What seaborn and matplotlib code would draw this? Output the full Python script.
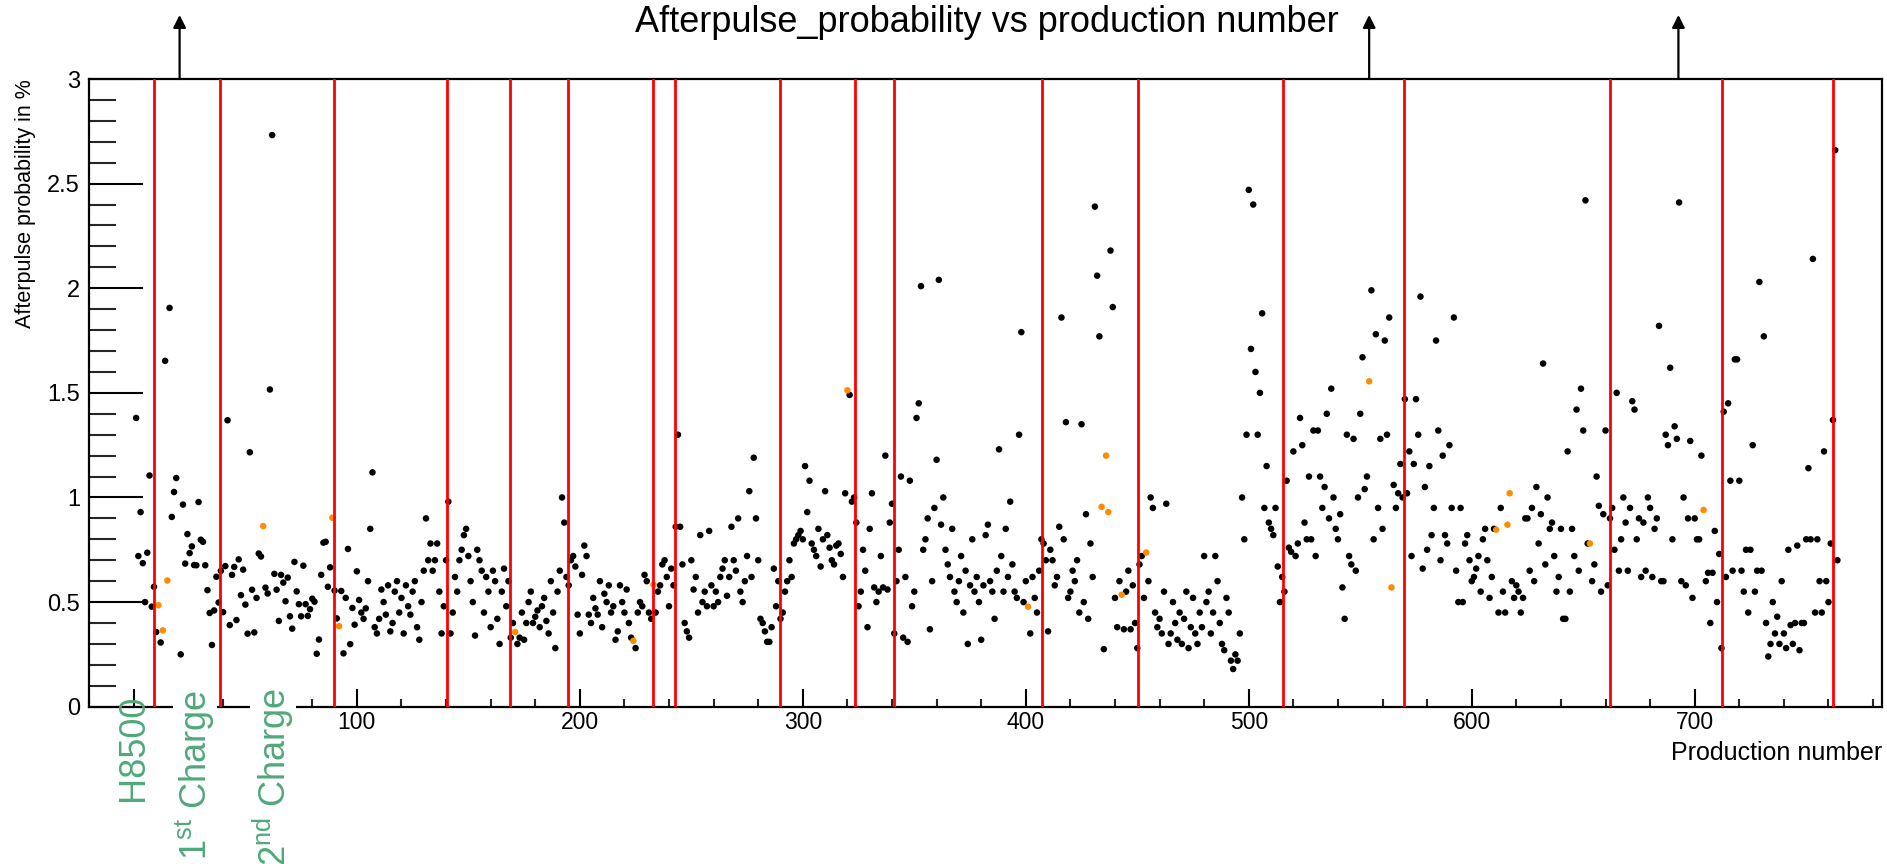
import matplotlib
matplotlib.use("Agg")
import matplotlib.pyplot as plt
from matplotlib.ticker import FixedLocator, MultipleLocator
import numpy as np
import pandas as pd
import seaborn as sns

# ---------------- data (afterpulse probability in %, by production number) -------------
ap_001 = [1.38, 0.72, 0.93, 0.686, 0.50, 0.736, 1.105, 0.478, 0.573, 0.357,
          0.485, 0.307, 0.365, 1.653, 0.603, 1.906, 0.907, 1.026, 1.093, None,
          0.25, 0.966, 0.684, 0.825, 0.734, 0.766, 0.677, 0.676, 0.978, 0.798,
          0.788, 0.676, 0.557, 0.448, 0.295, 0.46, 0.621, 0.498, 0.649, 0.452,
          0.672, 1.369, 0.39, 0.63, 0.668, 0.414, 0.704, 0.533, 0.655, 0.488]
ap_051 = [0.349, 1.216, 0.559, 0.355, 0.52, 0.732, 0.718, 0.863, 0.569, 0.541,
          1.516, 2.732, 0.635, 0.559, 0.41, 0.63, 0.593, 0.504, 0.617, 0.432,
          0.373, 0.692, 0.551, 0.49, 0.432, 0.674, 0.49, 0.434, 0.466, 0.516,
          0.502, 0.253, 0.321, 0.63, 0.784, 0.788, 0.573, 0.666, 0.903, 0.555,
          0.422, 0.385, 0.553, 0.255, 0.52, 0.754, 0.299, 0.472, 0.392, 0.647]
ap_101 = [0.51, 0.45, 0.42, 0.47, 0.60, 0.85, 1.12, 0.38, 0.35, 0.42,
          0.56, 0.50, 0.44, 0.58, 0.36, 0.40, 0.55, 0.60, 0.45, 0.52,
          0.35, 0.58, 0.48, 0.44, 0.55, 0.60, 0.38, 0.32, 0.50, 0.65,
          0.90, 0.70, 0.78, 0.65, 0.70, 0.78, 0.55, 0.35, 0.48, 0.70,
          0.98, 0.35, 0.45, 0.62, 0.55, 0.70, 0.75, 0.82, 0.85, 0.72]
ap_151 = [0.60, 0.50, 0.34, 0.75, 0.70, 0.65, 0.45, 0.62, 0.55, 0.38,
          0.65, 0.60, 0.42, 0.30, 0.55, 0.66, 0.48, 0.60, 0.33, 0.40,
          0.357, 0.30, 0.33, 0.45, 0.32, 0.40, 0.50, 0.55, 0.40, 0.43,
          0.46, 0.38, 0.48, 0.52, 0.41, 0.35, 0.60, 0.45, 0.28, 0.55,
          0.65, 1.00, 0.88, 0.62, 0.58, 0.70, 0.72, 0.67, 0.44, 0.35]
ap_201 = [0.63, 0.77, 0.72, 0.44, 0.40, 0.52, 0.47, 0.44, 0.60, 0.38,
          0.54, 0.50, 0.58, 0.45, 0.48, 0.32, 0.36, 0.58, 0.50, 0.45,
          0.56, 0.40, 0.33, 0.315, 0.28, 0.45, 0.50, 0.48, 0.63, 0.60,
          0.45, 0.42, 0.583, 0.45, 0.55, 0.58, 0.68, 0.70, 0.62, 0.48,
          0.66, 0.58, 0.86, 1.30, 0.86, 0.68, 0.40, 0.36, 0.33, 0.70]
ap_251 = [0.56, 0.62, 0.45, 0.82, 0.50, 0.55, 0.48, 0.84, 0.58, 0.48,
          0.55, 0.50, 0.62, 0.66, 0.70, 0.53, 0.62, 0.86, 0.70, 0.65,
          0.90, 0.55, 0.50, 0.60, 0.72, 1.03, 0.62, 1.19, 0.90, 0.70,
          0.42, 0.40, 0.36, 0.31, 0.31, 0.38, 0.66, 0.48, 0.60, 0.42,
          0.45, 0.55, 0.60, 0.70, 0.62, 0.78, 0.80, 0.82, 0.84, 0.80]
ap_301 = [1.15, 0.93, 1.08, 0.78, 0.75, 0.72, 0.85, 0.67, 0.80, 1.03,
          0.82, 0.76, 0.70, 0.68, 0.77, 0.78, 0.73, 0.62, 1.02, 1.512,
          1.49, 0.98, 1.00, 0.88, 0.48, 0.55, 0.75, 0.65, 0.38, 0.85,
          1.02, 0.57, 0.50, 0.55, 0.72, 0.57, 1.20, 0.56, 0.88, 0.97,
          0.35, 0.60, 0.75, 1.10, 0.33, 0.62, 0.31, 1.08, 0.48, 0.55]
ap_351 = [1.38, 1.45, 2.01, 0.75, 0.80, 0.90, 0.37, 0.60, 0.95, 1.18,
          2.04, 0.87, 1.00, 0.75, 0.68, 0.62, 0.85, 0.55, 0.50, 0.60,
          0.72, 0.45, 0.65, 0.30, 0.58, 0.80, 0.55, 0.62, 0.50, 0.32,
          0.58, 0.82, 0.87, 0.60, 0.55, 0.42, 0.65, 1.23, 0.72, 0.55,
          0.85, 0.62, 0.98, 0.68, 0.55, 0.52, 1.30, 1.79, 0.50, 0.60]
ap_401 = [0.478, 0.35, 0.62, 0.52, 0.45, 0.65, 0.80, 0.78, 0.70, 0.36,
          0.75, 0.70, 0.58, 0.62, 0.86, 1.86, 0.80, 1.36, 0.52, 0.55,
          0.65, 0.60, 0.70, 0.45, 1.35, 0.50, 0.92, 0.42, 0.78, 0.62,
          2.39, 2.06, 1.77, 0.955, 0.275, 1.20, 0.93, 2.18, 1.91, 0.52,
          0.38, 0.60, 0.535, 0.37, 0.55, 0.65, 0.37, 0.58, 0.40, 0.28]
ap_451 = [0.68, 0.72, 0.52, 0.737, 0.60, 1.00, 0.95, 0.45, 0.38, 0.42,
          0.35, 0.55, 0.97, 0.30, 0.35, 0.50, 0.40, 0.32, 0.45, 0.30,
          0.42, 0.55, 0.28, 0.38, 0.52, 0.35, 0.30, 0.45, 0.38, 0.72,
          0.50, 0.55, 0.35, 0.45, 0.72, 0.60, 0.40, 0.30, 0.27, 0.52,
          0.45, 0.22, 0.18, 0.25, 0.22, 0.35, 1.00, 0.80, 1.30, 2.47]
ap_501 = [1.71, 2.40, 1.60, 1.30, 1.50, 1.88, 0.95, 1.15, 0.88, 0.85,
          0.82, 0.95, 0.67, 0.50, 0.62, 0.55, 1.08, 0.76, 0.74, 1.22,
          0.72, 0.78, 1.38, 1.25, 0.88, 0.80, 1.10, 0.80, 1.32, 0.72,
          1.32, 1.10, 0.95, 1.05, 1.40, 0.90, 1.52, 1.00, 0.85, 0.80,
          0.92, 0.57, 0.42, 1.30, 0.72, 0.68, 1.28, 0.65, 1.00, 1.40]
ap_551 = [1.67, 1.04, 1.10, 1.555, 1.99, 0.80, 1.78, 0.95, 1.28, 0.85,
          1.75, 1.30, 1.86, 0.57, 1.06, 0.95, 1.02, 1.16, 1.00, 1.47,
          1.02, 1.22, 0.72, 1.16, 1.47, 1.30, 1.96, 0.66, 1.05, 0.75,
          1.15, 0.82, 0.95, 1.75, 1.32, 0.70, 1.20, 0.82, 0.78, 1.25,
          0.95, 1.86, 0.65, 0.50, 0.95, 0.50, 0.78, 0.82, 0.70, 0.60]
ap_601 = [0.62, 0.66, 0.72, 0.55, 0.80, 0.85, 0.70, 0.52, 0.62, 0.85,
          0.846, 0.45, 0.95, 0.55, 0.45, 0.87, 1.02, 0.60, 0.52, 0.58,
          0.55, 0.45, 0.52, 0.90, 0.90, 0.65, 0.95, 0.60, 1.05, 0.78,
          0.92, 1.64, 0.68, 1.00, 0.85, 0.88, 0.72, 0.55, 0.62, 0.85,
          0.42, 0.42, 1.22, 0.55, 0.85, 0.72, 1.42, 0.65, 1.52, 1.32]
ap_651 = [2.42, 0.78, 0.78, 0.60, 0.68, 1.10, 0.96, 0.55, 0.92, 1.32,
          0.58, 0.90, 0.95, 0.75, 1.50, 0.65, 0.80, 1.00, 0.88, 0.65,
          0.95, 1.46, 1.42, 0.80, 0.90, 0.62, 0.88, 0.65, 1.00, 0.95,
          0.62, 0.85, 0.90, 1.82, 0.60, 0.60, 1.30, 1.25, 1.62, 0.80,
          1.34, 1.28, 2.41, 0.60, 1.00, 0.58, 0.90, 1.27, 0.52, 0.90]
ap_701 = [0.80, 0.80, 1.20, 0.94, 0.60, 0.64, 0.40, 0.64, 0.84, 0.50,
          0.73, 0.28, 1.41, 0.62, 1.45, 1.08, 0.65, 1.66, 1.66, 1.08,
          0.65, 0.55, 0.75, 0.45, 0.75, 1.25, 0.55, 0.65, 2.03, 0.65,
          1.77, 0.40, 0.24, 0.30, 0.50, 0.35, 0.43, 0.30, 0.60, 0.35,
          0.28, 0.75, 0.39, 0.30, 0.40, 0.77, 0.27, 0.40, 0.40, 0.80]
ap_751 = [1.14, 0.80, 2.14, 0.45, 0.80, 0.60, 0.45, 1.22, 0.60, 0.50,
          0.78, 1.37, 2.66, 0.70]

block_starts = [1, 51, 101, 151, 201, 251, 301, 351, 401, 451, 501, 551, 601, 651, 701, 751]
blocks = [ap_001, ap_051, ap_101, ap_151, ap_201, ap_251, ap_301, ap_351,
          ap_401, ap_451, ap_501, ap_551, ap_601, ap_651, ap_701, ap_751]

# production numbers drawn in orange
orange_ids = [11, 13, 15, 58, 89, 92, 171, 224, 233, 320, 401, 434, 436, 437,
              443, 454, 554, 564, 611, 616, 617, 653, 704]

# red separator lines (production number)
boundaries = [8.9, 38.8, 89.9, 140.4, 168.8, 194.7, 232.8, 242.8, 289.6, 323.5,
              340.7, 407.3, 450.3, 515.3, 569.4, 662.1, 712.2, 762.2]
# arrows above the frame
arrow_x = [20.5, 554.0, 692.7]

x_ticks = [0, 100, 200, 300, 400, 500, 600, 700]
x_tick_labels = ['', '100', '200', '300', '400', '500', '600', '700']
y_ticks = [0, 0.5, 1, 1.5, 2, 2.5, 3]
y_tick_labels = ['0', '0.5', '1', '1.5', '2', '2.5', '3']

# ---------------- build table ----------------
rows = []
for start, vals in zip(block_starts, blocks):
    for i, v in enumerate(vals):
        if v is not None:
            rows.append((start + i, v))
df = pd.DataFrame(rows, columns=['production', 'afterpulse'])
df['kind'] = np.where(df['production'].isin(orange_ids), 'flagged', 'normal')
df = df.sort_values('kind', key=lambda s: s.eq('flagged'), kind='stable')

# ---------------- style ----------------
sns.set_style('white')
plt.rcParams['font.family'] = ['Liberation Sans', 'DejaVu Sans']
plt.rcParams['mathtext.fontset'] = 'custom'
plt.rcParams['mathtext.rm'] = 'Liberation Sans'
plt.rcParams['mathtext.it'] = 'Liberation Sans:italic'
plt.rcParams['mathtext.bf'] = 'Liberation Sans:bold'

W, H = 1887, 864
fig = plt.figure(figsize=(W / 100, H / 100), dpi=100, facecolor='white')
L, R, T, B = 89.3, 1882.0, 79.0, 706.7
ax = fig.add_axes([L / W, 1 - B / H, (R - L) / W, (B - T) / H])

sns.scatterplot(data=df, x='production', y='afterpulse', hue='kind',
                palette={'normal': 'black', 'flagged': '#ff8c00'},
                s=22, linewidth=0, legend=False, ax=ax, zorder=3)

for b in boundaries:
    ax.axvline(b, color='#ff0000', lw=2.0, zorder=4)

ax.set_xlim(-20, 784)
ax.set_ylim(0, 3)
ax.set_xlabel('')
ax.set_ylabel('')

ax.xaxis.set_major_locator(FixedLocator(x_ticks))
ax.set_xticklabels(x_tick_labels)
ax.xaxis.set_minor_locator(MultipleLocator(20))
ax.yaxis.set_major_locator(FixedLocator(y_ticks))
ax.set_yticklabels(y_tick_labels)
ax.yaxis.set_minor_locator(MultipleLocator(0.1))

ax.tick_params(axis='x', which='major', direction='in', length=13, width=1.5,
               pad=3, labelsize=16.5, colors='black', bottom=True, top=False)
ax.tick_params(axis='x', which='minor', direction='in', length=5.8, width=1.5,
               bottom=True, top=False)
ax.tick_params(axis='y', which='major', direction='in', length=38.9, width=1.5,
               pad=6.7, labelsize=17, colors='black', left=True, right=False)
ax.tick_params(axis='y', which='minor', direction='in', length=19.4, width=1.5,
               left=True, right=False)
for sp in ax.spines.values():
    sp.set_visible(True)
    sp.set_color('black')
    sp.set_linewidth(1.6)

# arrows above frame
for xa in arrow_x:
    ax.annotate('', xy=(xa, 1 + 64 / (B - T)), xytext=(xa, 1.0),
                xycoords=('data', 'axes fraction'), textcoords=('data', 'axes fraction'),
                arrowprops=dict(arrowstyle='-|>,head_length=0.75,head_width=0.38',
                                color='black', lw=1.6, shrinkA=0, shrinkB=0,
                                mutation_scale=10),
                annotation_clip=False)

# texts
fig.text(987 / W, 1 - 31.7 / H, 'Afterpulse_probability vs production number',
         ha='center', va='baseline', fontsize=26, color='black')
fig.text(26 / W, 1 - 79 / H, 'Afterpulse probability in %', rotation=90,
         ha='center', va='top', fontsize=15.5, color='black')
fig.text(R / W, 1 - 760 / H, 'Production number', ha='right', va='baseline',
         fontsize=18, color='black')

green = '#4fa87a'
fig.text(133 / W, 1 - 695 / H, 'H8500', rotation=90, ha='center', va='top',
         fontsize=26, color=green, zorder=10)
fig.text(195 / W, 1 - 690 / H, r'1$^{\mathrm{st}}$ Charge', rotation=90, ha='center', va='top',
         fontsize=26, color=green, zorder=10,
         bbox=dict(facecolor='white', edgecolor='none', pad=0.5))
fig.text(273 / W, 1 - 688 / H, r'2$^{\mathrm{nd}}$ Charge', rotation=90, ha='center', va='top',
         fontsize=26, color=green, zorder=10,
         bbox=dict(facecolor='white', edgecolor='none', pad=0.5))

fig.savefig('out.png', dpi=100, facecolor='white')
